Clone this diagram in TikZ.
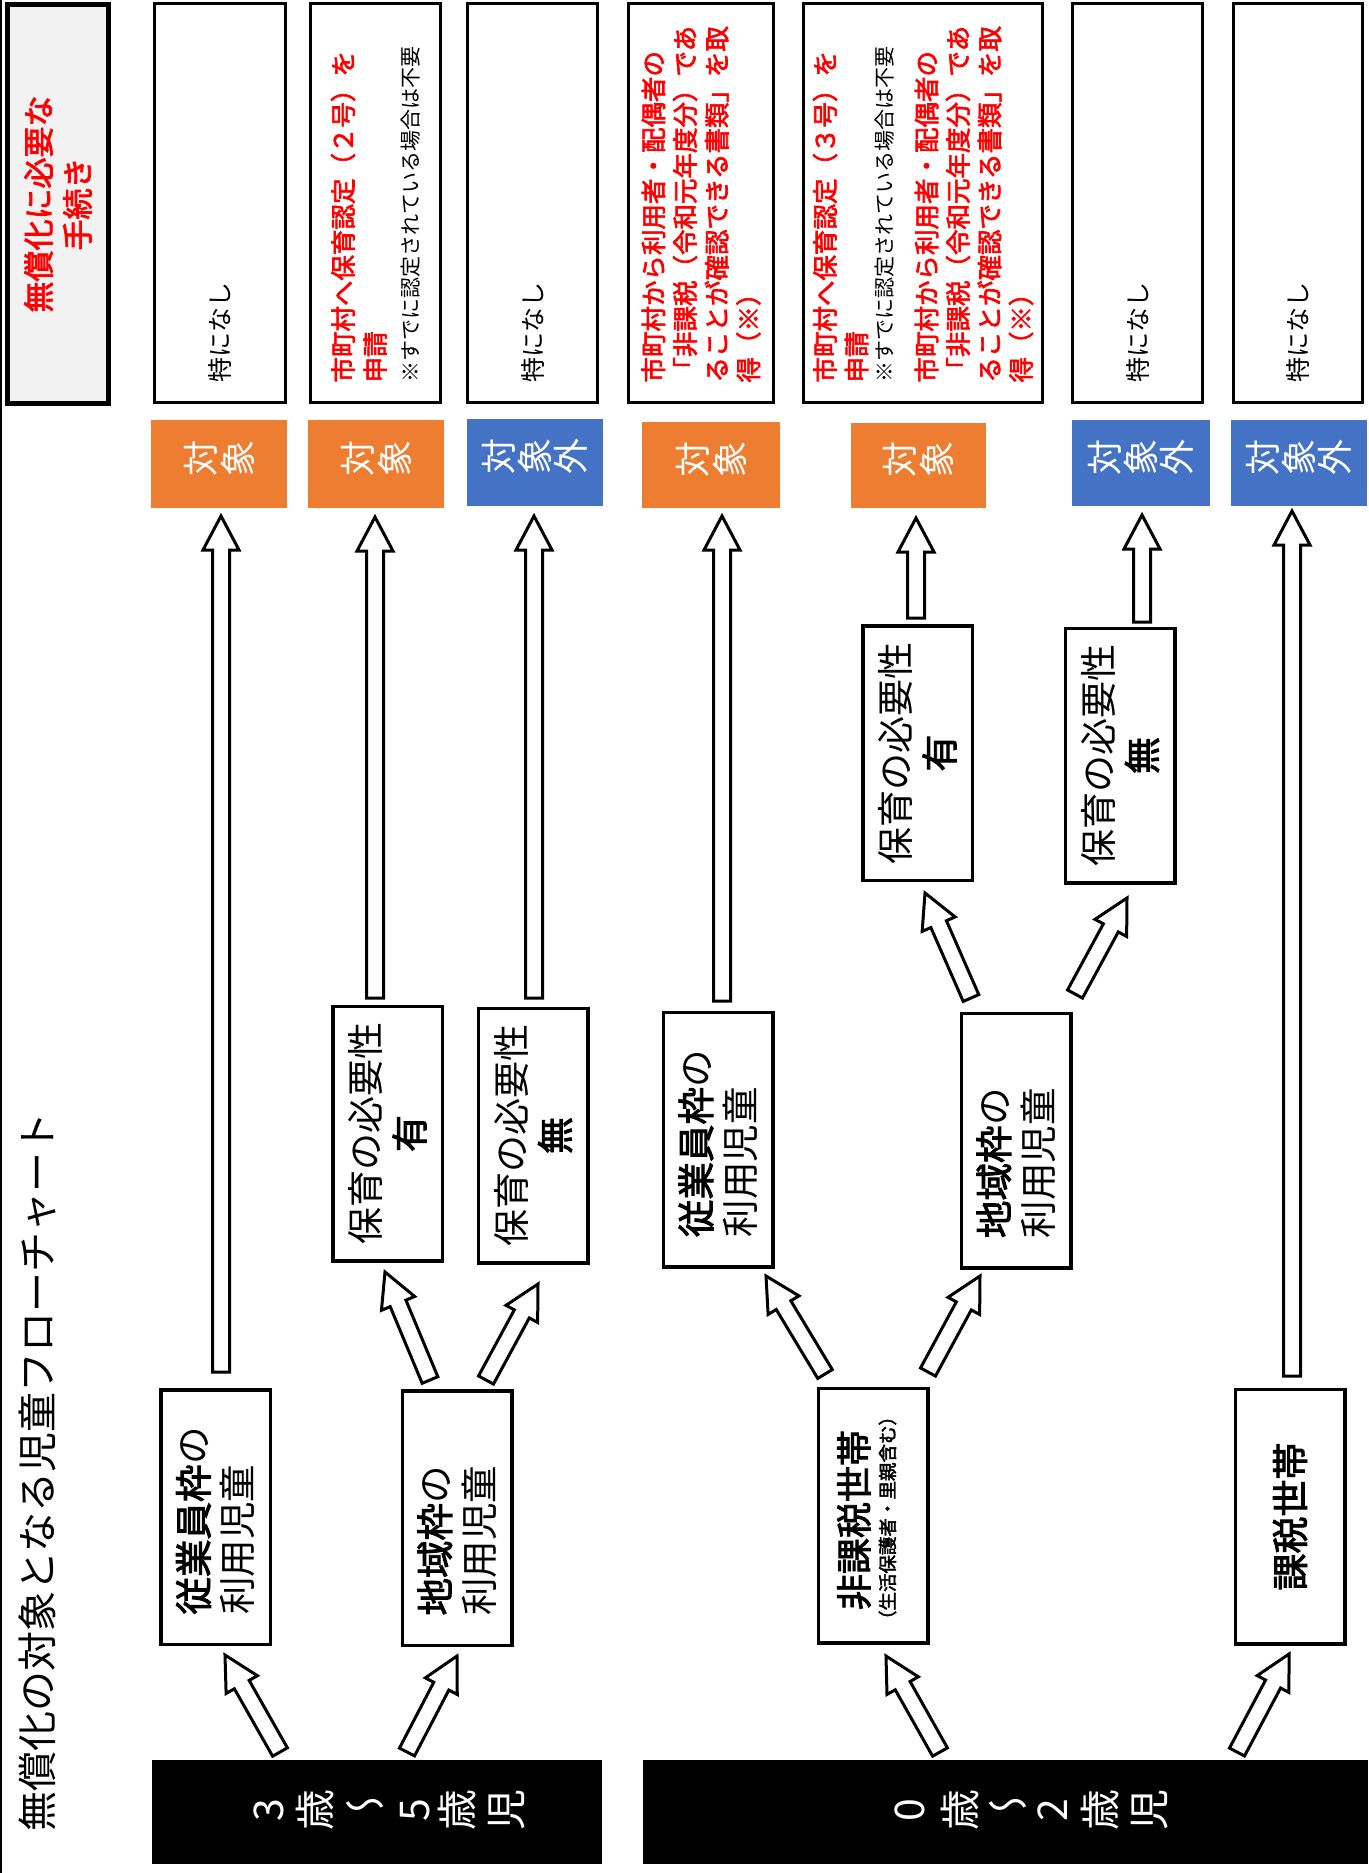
\documentclass[tikz,border=0pt]{standalone}
\usepackage{fontspec}
\setmainfont{Noto Sans CJK JP}[BoldFont={Noto Sans CJK JP}, BoldFeatures={FakeBold=2.5}]
\usetikzlibrary{calc}
\definecolor{orgc}{HTML}{ED7D31}
\definecolor{bluc}{HTML}{4472C4}
\definecolor{redc}{HTML}{FF0000}
\definecolor{hdrg}{HTML}{F2F2F2}
\tikzset{
 colbox/.style={draw=black, line width=2.75pt, fill=white, rectangle, rotate=90, minimum width=399pt, minimum height=#1, text width=359pt, inner xsep=20pt, inner ysep=0pt, align=left},
 hdrbox/.style={draw=black, line width=5pt, fill=hdrg, rectangle, rotate=90, minimum width=399pt, minimum height=101pt, inner sep=0pt, align=center, text=redc, font=\fontsize{31}{39}\selectfont\bfseries},
 tag/.style={rectangle, inner sep=0pt},
 tch/.style={rotate=90, inner sep=0pt, text=white, font=\fontsize{36}{36}\selectfont},
 kch/.style={rotate=90, inner sep=0pt, text=white, font=\fontsize{41}{41}\selectfont},
 kwave/.style={xscale=-1, inner sep=0pt, text=white, font=\fontsize{41}{41}\selectfont},
 sbox/.style={draw=black, line width=3.5pt, fill=white, rectangle, rotate=90, minimum width=254.5pt, minimum height=109.5pt, inner ysep=0pt},
 lbox/.style={sbox, text width=195pt, inner xsep=29.75pt, align=left, font=\fontsize{37.5}{44}\selectfont},
 cbox/.style={sbox, text width=234.5pt, inner xsep=10pt, align=center, font=\fontsize{37}{44}\selectfont},
 rtxt/.style={rotate=90, inner sep=0pt},
 blk/.style={rectangle, fill=black, inner sep=0pt},
 fat/.style={draw=black, fill=white, line width=3pt, line join=miter, miter limit=10,
  to path={
   ($(\tikztostart)!8.5pt!90:(\tikztotarget)$)
   -- ($(\tikztotarget)!34pt!(\tikztostart)!8.5pt!90:(\tikztotarget)$)
   -- ($(\tikztotarget)!34pt!(\tikztostart)!18pt!90:(\tikztotarget)$)
   -- (\tikztotarget)
   -- ($(\tikztotarget)!34pt!(\tikztostart)!18pt!-90:(\tikztotarget)$)
   -- ($(\tikztotarget)!34pt!(\tikztostart)!8.5pt!-90:(\tikztotarget)$)
   -- ($(\tikztostart)!8.5pt!-90:(\tikztotarget)$)
   -- cycle}}
}
\newcommand\tagtwo[1]{\foreach \i/\dx/\c in {1/-18.5/対,2/18.5/象} {\node[tch] (#1c\i) at ($(#1)+(\dx,-6)$) {\c};}}
\newcommand\tagthree[1]{\foreach \i/\dx/\c in {1/-36/対,2/0/象,3/36/外} {\node[tch] (#1c\i) at ($(#1)+(\dx,-6)$) {\c};}}
\begin{document}
\begin{tikzpicture}[x=1pt,y=-1pt]
\fill[white] (0,0) rectangle (1368,1873);
\useasboundingbox (0,0) rectangle (1368,1873);
\draw[line width=1.5pt] (0.75,0) -- (0.75,1873);

% title
\node[rotate=90, inner sep=0pt, font=\fontsize{40}{40}\selectfont] (title) at (37,1472) {無償化の対象となる児童フローチャート};

% header
\node[hdrbox] (hdr) at (58,204) {無償化に必要な\\手続き};

% procedure boxes
\node[colbox=131pt] (c1) at (220,203) {\fontsize{25}{32}\selectfont 特になし};
\node[colbox=130pt] (c2) at (375.5,203) {{\fontsize{25.5}{32}\selectfont\bfseries\textcolor{redc}{市町村へ保育認定（２号）を\\申請}\par}{\fontsize{21}{33.5}\selectfont ※すでに認定されている場合は不要\par}};
\node[colbox=130pt] (c3) at (532.5,203) {\fontsize{25}{32}\selectfont 特になし};
\node[colbox=145pt] (c4) at (701,203) {{\fontsize{25.5}{31.7}\selectfont\bfseries\textcolor{redc}{市町村から利用者・配偶者の\\「非課税（令和元年度分）であ\\ることが確認できる書類」を取\\得（※）}\par}};
\node[colbox=239pt] (c5) at (923,203) {{\fontsize{25.5}{31.5}\selectfont\bfseries\textcolor{redc}{市町村へ保育認定（３号）を\\申請}\par}{\fontsize{21}{26.5}\selectfont ※すでに認定されている場合は不要\par}{\fontsize{25.5}{31.5}\selectfont\bfseries\vspace{12pt}\textcolor{redc}{市町村から利用者・配偶者の\\「非課税（令和元年度分）であ\\ることが確認できる書類」を取\\得（※）}\par}};
\node[colbox=130pt] (c6) at (1137.5,203) {\fontsize{25}{32}\selectfont 特になし};
\node[colbox=129pt] (c7) at (1298,203) {\fontsize{25}{32}\selectfont 特になし};

% target tags
\node[tag, fill=orgc, minimum width=136pt, minimum height=88pt] (o1) at (219,464) {};
\node[tag, fill=orgc, minimum width=136pt, minimum height=88pt] (o2) at (376,464) {};
\node[tag, fill=bluc, minimum width=136pt, minimum height=87pt] (b3) at (535,462.5) {};
\node[tag, fill=orgc, minimum width=138pt, minimum height=86pt] (o4) at (711,465) {};
\node[tag, fill=orgc, minimum width=135pt, minimum height=85pt] (o5) at (918.5,465.5) {};
\node[tag, fill=bluc, minimum width=138pt, minimum height=86pt] (b6) at (1141,463) {};
\node[tag, fill=bluc, minimum width=136pt, minimum height=86pt] (b7) at (1299,463) {};
\tagtwo{o1}\tagtwo{o2}\tagthree{b3}\tagtwo{o4}\tagtwo{o5}\tagthree{b6}\tagthree{b7}

% level boxes
\node[lbox] (e35) at (215.5,1517) {{\bfseries 従業員枠}の\\利用児童};
\node[lbox] (r35) at (457,1518) {{\bfseries 地域枠}の\\利用児童};
\node[sbox] (n02) at (873,1515.5) {};
\node[rtxt, font=\fontsize{36}{36}\selectfont\bfseries] (n02a) at ($(n02)+(-19,4.5)$) {非課税世帯};
\node[rtxt, font=\fontsize{18.5}{18.5}\selectfont\bfseries] (n02b) at ($(n02)+(14.5,2.5)$) {（生活保護者・里親含む）};
\node[cbox, font=\fontsize{37}{44}\selectfont\bfseries] (t02) at (1290,1516.5) {課税世帯};
\node[cbox] (y35) at (387.5,1133.5) {保育の必要性\\{\bfseries 有}};
\node[cbox] (m35) at (533,1135.5) {保育の必要性\\{\bfseries 無}};
\node[lbox] (e02) at (718,1139.5) {{\bfseries 従業員枠}の\\利用児童};
\node[lbox] (r02) at (1016,1140.5) {{\bfseries 地域枠}の\\利用児童};
\node[cbox] (y02) at (917.5,753) {保育の必要性\\{\bfseries 有}};
\node[cbox] (m02) at (1120,755.5) {保育の必要性\\{\bfseries 無}};

% age boxes
\node[blk, minimum width=450pt, minimum height=104pt] (k35) at (377,1812) {};
\node[blk, minimum width=725pt, minimum height=104pt] (k02) at (1005.5,1812) {};
\node[kch] (k35c1) at ($(k35)+(-108,-2)$) {3};
\node[kch] (k35c2) at ($(k35)+(-62,-2)$) {歳};
\node[kwave] (k35c3) at ($(k35)+(-12,-2)$) {〜};
\node[kch] (k35c4) at ($(k35)+(38,-2)$) {5};
\node[kch] (k35c5) at ($(k35)+(80,-2)$) {歳};
\node[kch] (k35c6) at ($(k35)+(130,-2)$) {児};
\node[kch] (k02c1) at ($(k02)+(-95.5,-2)$) {0};
\node[kch] (k02c2) at ($(k02)+(-45.5,-2)$) {歳};
\node[kwave] (k02c3) at ($(k02)+(2.5,-2)$) {〜};
\node[kch] (k02c4) at ($(k02)+(47.5,-2)$) {2};
\node[kch] (k02c5) at ($(k02)+(94.5,-2)$) {歳};
\node[kch] (k02c6) at ($(k02)+(144.5,-2)$) {児};

% arrow ends
\coordinate (v1s) at ($(e35)+(5.5,-145)$);   \coordinate (v1t) at ($(o1)+(2,52)$);
\coordinate (v2s) at ($(y35)+(-12.5,-135.5)$); \coordinate (v2t) at ($(o2)+(-1,53)$);
\coordinate (v3s) at ($(m35)+(1,-137.5)$);   \coordinate (v3t) at ($(b3)+(-1,53.5)$);
\coordinate (v4s) at ($(e02)+(4,-138.5)$);   \coordinate (v4t) at ($(o4)+(11,51)$);
\coordinate (v5s) at ($(y02)+(-1.5,-135)$);  \coordinate (v5t) at ($(o5)+(-2.5,52.5)$);
\coordinate (v6s) at ($(m02)+(22,-133.5)$);  \coordinate (v6t) at ($(b6)+(1,52)$);
\coordinate (v7s) at ($(t02)+(2,-140.5)$);   \coordinate (v7t) at ($(b7)+(-7,48)$);

\coordinate (as) at ($(k35)+(-97,-60)$);  \coordinate (at) at ($(e35)+(9.5,138)$);
\coordinate (bs) at ($(k35)+(30,-60)$);   \coordinate (bt) at ($(r35)+(0,138)$);
\coordinate (cs) at ($(r35)+(-27,-138)$); \coordinate (ct) at ($(y35)+(-2.5,138.5)$);
\coordinate (ds) at ($(r35)+(29,-138)$);  \coordinate (dt) at ($(m35)+(5,148.5)$);
\coordinate (es) at ($(k02)+(-65.5,-60)$); \coordinate (et) at ($(n02)+(13,140.5)$);
\coordinate (fs) at ($(k02)+(231.5,-60)$); \coordinate (ft) at ($(t02)+(-1,137.5)$);
\coordinate (gs) at ($(n02)+(-48,-141.5)$); \coordinate (gt) at ($(e02)+(48,136.5)$);
\coordinate (hs) at ($(n02)+(55,-143.5)$);  \coordinate (ht) at ($(r02)+(-36,135.5)$);
\coordinate (is) at ($(r02)+(-45,-142.5)$); \coordinate (it) at ($(y02)+(7.5,140)$);
\coordinate (js) at ($(r02)+(59,-146.5)$);  \coordinate (jt) at ($(m02)+(7,142.5)$);

% arrows
\draw[fat] (v1s) to (v1t);
\draw[fat] (v2s) to (v2t);
\draw[fat] (v3s) to (v3t);
\draw[fat] (v4s) to (v4t);
\draw[fat] (v5s) to (v5t);
\draw[fat] (v6s) to (v6t);
\draw[fat] (v7s) to (v7t);
\draw[fat] (as) to (at);
\draw[fat] (bs) to (bt);
\draw[fat] (cs) to (ct);
\draw[fat] (ds) to (dt);
\draw[fat] (es) to (et);
\draw[fat] (fs) to (ft);
\draw[fat] (gs) to (gt);
\draw[fat] (hs) to (ht);
\draw[fat] (is) to (it);
\draw[fat] (js) to (jt);
\end{tikzpicture}
\end{document}
